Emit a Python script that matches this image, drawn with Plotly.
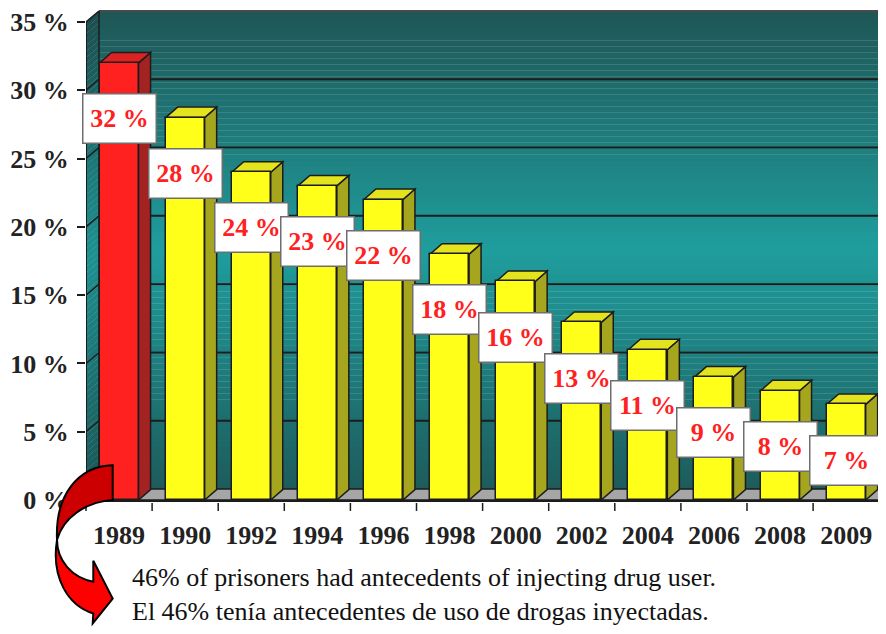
import plotly.graph_objects as go

# ---------------- data ----------------
years = ["1989", "1990", "1992", "1994", "1996", "1998", "2000",
         "2002", "2004", "2006", "2008", "2009"]
values = [32, 28, 24, 23, 22, 18, 16, 13, 11, 9, 8, 7]
value_labels = ["32 %", "28 %", "24 %", "23 %", "22 %", "18 %", "16 %",
                "13 %", "11 %", "9 %", "8 %", "7 %"]
y_ticks = [0, 5, 10, 15, 20, 25, 30, 35]
y_tick_labels = ["0 %", "5 %", "10 %", "15 %", "20 %", "25 %", "30 %", "35 %"]
note_en = "46% of prisoners had antecedents of injecting drug user."
note_es = "El 46% tenía antecedentes de uso de drogas inyectadas."

# ---------------- geometry / style ----------------
# the page body has an 8px margin; keep the figure inside the window
BODY = 8
WIN_W, WIN_H = 886, 634
FIG_W, FIG_H = WIN_W - 2 * BODY, WIN_H - 2 * BODY
AX_LEFT_PAGE, AX_BOTTOM_PAGE = 86, 500
L = AX_LEFT_PAGE - BODY
B = BODY + FIG_H - AX_BOTTOM_PAGE
T, R = 0, 0
PW, PH = FIG_W - L - R, FIG_H - T - B
CAT_PX = 66.1
UNIT_PX = 480 / 35.0
x_min = -0.5
x_max = x_min + PW / CAT_PX
y_max = PH / UNIT_PX

WDX, WDY = 13 / CAT_PX, 11 / UNIT_PX      # wall depth
BDX, BDY = 12 / CAT_PX, 10.5 / UNIT_PX    # bar depth
BAR_W = 39 / CAT_PX
LABEL_OFFSET = 56 / UNIT_PX

SERIF = "Liberation Serif, Times New Roman, serif"
OUT = "#1c1c1c"


def px(xp):
    return (xp - AX_LEFT_PAGE) / PW


def py(yp):
    return (AX_BOTTOM_PAGE - yp) / PH


def wall_color(t, k=1.0):
    # t: 0 bottom .. 1 top; dark edges, brighter middle
    dark_top = (31, 86, 86)
    dark_bot = (30, 92, 92)
    bright = (32, 158, 158)
    if t >= 0.5:
        f = (t - 0.5) / 0.5
        c = [bright[i] + (dark_top[i] - bright[i]) * f for i in range(3)]
    else:
        f = (0.5 - t) / 0.5
        c = [bright[i] + (dark_bot[i] - bright[i]) * f for i in range(3)]
    return "rgb(%d,%d,%d)" % tuple(int(v * k) for v in c)


shapes = []

# back wall + left wall gradient bands
N = 80
top = y_ticks[-1]
for i in range(N):
    a = top * i / N
    b = top * (i + 1) / N + 0.02
    t = (i + 0.5) / N
    shapes.append(dict(type="rect", xref="x", yref="y", layer="below",
                       x0=x_min + WDX, x1=x_max + 1, y0=a + WDY, y1=b + WDY,
                       fillcolor=wall_color(t), line=dict(width=0)))
    shapes.append(dict(type="path", xref="x", yref="y", layer="below",
                       path="M %f,%f L %f,%f L %f,%f L %f,%f Z" % (
                           x_min, a, x_min + WDX, a + WDY,
                           x_min + WDX, b + WDY, x_min, b),
                       fillcolor=wall_color(t, 0.92), line=dict(width=0)))

# gridlines on back wall and left wall
for v in y_ticks[1:]:
    col = OUT if v < top else "#4a4a4a"
    shapes.append(dict(type="line", xref="x", yref="y", layer="below",
                       x0=x_min + WDX, x1=x_max + 1, y0=v + WDY, y1=v + WDY,
                       line=dict(color=col, width=2)))
    shapes.append(dict(type="line", xref="x", yref="y", layer="below",
                       x0=x_min, x1=x_min + WDX, y0=v, y1=v + WDY,
                       line=dict(color=OUT, width=1.5)))
shapes.append(dict(type="line", xref="x", yref="y", layer="below",
                   x0=x_min + WDX, x1=x_min + WDX, y0=WDY, y1=top + WDY,
                   line=dict(color=OUT, width=1.5)))

# floor
shapes.append(dict(type="path", xref="x", yref="y", layer="below",
                   path="M %f,%f L %f,%f L %f,%f L %f,%f Z" % (
                       x_min, 0, x_max + 1, 0, x_max + 1 + WDX, WDY,
                       x_min + WDX, WDY),
                   fillcolor="#a6a6a6", line=dict(color=OUT, width=1.5)))

# 3D faces of bars (side + top)
for i, v in enumerate(values):
    red = (i == 0)
    side = "#a52222" if red else "#a6a61e"
    topc = "#dc2222" if red else "#e3e31e"
    xr = i + BAR_W / 2
    xl = i - BAR_W / 2
    shapes.append(dict(type="path", xref="x", yref="y", layer="below",
                       path="M %f,%f L %f,%f L %f,%f L %f,%f Z" % (
                           xr, 0, xr, v, xr + BDX, v + BDY, xr + BDX, BDY),
                       fillcolor=side, line=dict(color=OUT, width=1.5)))
    shapes.append(dict(type="path", xref="x", yref="y", layer="below",
                       path="M %f,%f L %f,%f L %f,%f L %f,%f Z" % (
                           xl, v, xr, v, xr + BDX, v + BDY, xl + BDX, v + BDY),
                       fillcolor=topc, line=dict(color=OUT, width=1.5)))

# front y axis line
shapes.append(dict(type="line", xref="x", yref="y", layer="above",
                   x0=x_min, x1=x_min, y0=0, y1=top,
                   line=dict(color=OUT, width=2)))

# x tick marks at category boundaries
for k in range(len(years) + 1):
    xb = (k - 0.5 - x_min) / (x_max - x_min)
    shapes.append(dict(type="line", xref="paper", yref="paper", layer="above",
                       x0=xb, x1=xb, y0=py(503), y1=py(511),
                       line=dict(color=OUT, width=1.5)))


def P(x, y):
    return "%f,%f" % (px(x), py(y))


# curved arrow (decoration)
dark_path = "M %s C %s %s %s C %s %s %s Z" % (
    P(112.7, 465), P(78, 466), P(55, 495), P(57, 540),
    P(63, 518), P(85, 502), P(112.7, 500))
bright_path = "M %s C %s %s %s L %s L %s L %s L %s C %s %s %s Z" % (
    P(57, 540), P(57, 561), P(72, 578), P(93.3, 582),
    P(93.3, 561), P(112.7, 599), P(92.7, 624), P(93.3, 614),
    P(68, 606), P(51, 578), P(57, 540))
shapes.append(dict(type="path", xref="paper", yref="paper", layer="above",
                   path=bright_path, fillcolor="#ff0000",
                   line=dict(color="#000000", width=2)))
shapes.append(dict(type="path", xref="paper", yref="paper", layer="above",
                   path=dark_path, fillcolor="#cc0000",
                   line=dict(color="#000000", width=2)))

# ---------------- traces ----------------
colors = ["#ff2020"] + ["#ffff1a"] * (len(values) - 1)
fig = go.Figure()
fig.add_trace(go.Bar(x=list(range(len(years))), y=values, width=BAR_W,
                     marker=dict(color=colors, line=dict(color=OUT, width=1.5)),
                     hoverinfo="skip", showlegend=False))

annotations = []
for i, (v, lab) in enumerate(zip(values, value_labels)):
    annotations.append(dict(x=i, y=v - LABEL_OFFSET, xref="x", yref="y",
                            text="<b>%s</b>" % lab, showarrow=False,
                            font=dict(family=SERIF, size=26, color="#ff2020"),
                            bgcolor="#ffffff", bordercolor="#6e6e6e",
                            borderwidth=1.5, borderpad=1, width=70, height=46))

annotations.append(dict(x=px(130), y=py(595), xref="paper",
                        yref="paper", xanchor="left", yanchor="middle",
                        align="left", showarrow=False,
                        text=note_en + "<br>" + note_es,
                        font=dict(family=SERIF, size=26, color="#111111")))

fig.update_layout(
    width=FIG_W, height=FIG_H,
    margin=dict(l=L, r=R, t=T, b=B, pad=0),
    paper_bgcolor="#ffffff", plot_bgcolor="rgba(0,0,0,0)",
    bargap=0, shapes=shapes, annotations=annotations,
    xaxis=dict(range=[x_min, x_max], tickmode="array",
               tickvals=list(range(len(years))), ticktext=years,
               ticks="", showgrid=False, zeroline=False,
               showline=True, linecolor=OUT, linewidth=2,
               ticklabelstandoff=11, ticklabeloverflow="allow",
               tickfont=dict(family=SERIF, size=26, color="#222222",
                             weight="bold")),
    yaxis=dict(range=[0, y_max], tickmode="array", tickvals=y_ticks,
               ticktext=y_tick_labels, ticks="outside", ticklen=8,
               tickwidth=1.5, tickcolor=OUT, showgrid=False,
               zeroline=False, showline=False, ticklabelstandoff=3,
               ticklabeloverflow="allow",
               tickfont=dict(family=SERIF, size=26, color="#222222",
                             weight="bold")),
)

fig.write_html("out.html")
